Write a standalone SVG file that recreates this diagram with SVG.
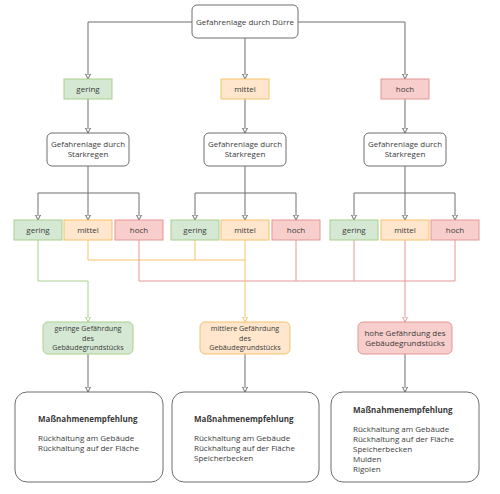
<svg xmlns="http://www.w3.org/2000/svg" width="500" height="494" viewBox="0 0 500 494">
<defs>
<style>
text{font-family:"Open Sans","Liberation Sans",sans-serif;font-size:8px;fill:#3a3a3a;}
.c{text-anchor:middle;}
.b{font-weight:bold;}
.s{font-size:7.2px;}
.n{fill:#fff;stroke:#6e6e6e;stroke-width:1;}
.g{fill:#d5e8d4;stroke:#a8d08d;stroke-width:1;}
.o{fill:#ffe6cc;stroke:#f4c46a;stroke-width:1;}
.r{fill:#f8cecc;stroke:#e39896;stroke-width:1;}
.e{fill:none;stroke-width:1;}
.eg{stroke:#6e6e6e;marker-end:url(#ag);}
.egn{stroke:#a8d08d;}
.eor{stroke:#f4c46a;}
.ere{stroke:#e39896;}
</style>
<marker id="ag" viewBox="0 0 6 6" refX="5.5" refY="3" markerWidth="6" markerHeight="6" markerUnits="userSpaceOnUse" orient="auto"><path d="M0.5,0.5 L5.5,3 L0.5,5.5 Z" fill="#fff" stroke="#6e6e6e" stroke-width="1"/></marker>
<marker id="agn" viewBox="0 0 6 6" refX="5.5" refY="3" markerWidth="6" markerHeight="6" markerUnits="userSpaceOnUse" orient="auto"><path d="M0.5,0.5 L5.5,3 L0.5,5.5 Z" fill="#fff" stroke="#a8d08d" stroke-width="1"/></marker>
<marker id="aor" viewBox="0 0 6 6" refX="5.5" refY="3" markerWidth="6" markerHeight="6" markerUnits="userSpaceOnUse" orient="auto"><path d="M0.5,0.5 L5.5,3 L0.5,5.5 Z" fill="#fff" stroke="#f4c46a" stroke-width="1"/></marker>
<marker id="are" viewBox="0 0 6 6" refX="5.5" refY="3" markerWidth="6" markerHeight="6" markerUnits="userSpaceOnUse" orient="auto"><path d="M0.5,0.5 L5.5,3 L0.5,5.5 Z" fill="#fff" stroke="#e39896" stroke-width="1"/></marker>
</defs>
<rect width="500" height="494" fill="#fff"/>

<g id="connectors" class="e">
<path class="e eg" d="M192,22 H88 V79"/>
<path class="e eg" d="M245,38 V79"/>
<path class="e eg" d="M298,22 H405 V79"/>
<path class="e eg" d="M88,99 V133"/>
<path class="e eg" d="M245,99 V133"/>
<path class="e eg" d="M405,99 V133"/>
<path class="e eg" d="M88,166 V220"/>
<path class="e eg" d="M88,193 H38 V220"/>
<path class="e eg" d="M88,193 H139 V220"/>
<path class="e eg" d="M245,166 V220"/>
<path class="e eg" d="M245,193 H195 V220"/>
<path class="e eg" d="M245,193 H296 V220"/>
<path class="e eg" d="M405,166 V220"/>
<path class="e eg" d="M405,193 H354 V220"/>
<path class="e eg" d="M405,193 H455 V220"/>
<path class="e egn" d="M38,240 V281 H88 V322" marker-end="url(#agn)"/>
<path class="e eor" d="M88,240 V260 H245"/>
<path class="e eor" d="M195,240 V260"/>
<path class="e ere" d="M139,240 V281 H455 V240"/>
<path class="e ere" d="M296,240 V281"/>
<path class="e ere" d="M354,240 V281"/>
<path class="e eor" d="M245,240 V322" marker-end="url(#aor)"/>
<path class="e ere" d="M405,240 V322" marker-end="url(#are)"/>
<path class="e eg" d="M88,354 V392"/>
<path class="e eg" d="M245,354 V392"/>
<path class="e eg" d="M405,354 V392"/>
</g>

<g id="duerre"><rect class="n" x="192" y="5" width="106" height="33" rx="5"/><text class="c" x="245" y="24.5">Gefahrenlage durch Dürre</text></g>

<g id="d-gering"><rect class="g" x="64" y="79" width="48" height="20"/><text class="c" x="88" y="91.8">gering</text></g>
<g id="d-mittel"><rect class="o" x="221" y="79" width="48" height="20"/><text class="c" x="245" y="91.8">mittel</text></g>
<g id="d-hoch"><rect class="r" x="381" y="79" width="48" height="20"/><text class="c" x="405" y="91.8">hoch</text></g>

<g id="sr1"><rect class="n" x="47" y="133" width="82" height="33" rx="5"/><text class="c" x="88" y="147">Gefahrenlage durch</text><text class="c" x="88" y="157">Starkregen</text></g>
<g id="sr2"><rect class="n" x="204" y="133" width="82" height="33" rx="5"/><text class="c" x="245" y="147">Gefahrenlage durch</text><text class="c" x="245" y="157">Starkregen</text></g>
<g id="sr3"><rect class="n" x="364" y="133" width="82" height="33" rx="5"/><text class="c" x="405" y="147">Gefahrenlage durch</text><text class="c" x="405" y="157">Starkregen</text></g>

<g id="s1-gering"><rect class="g" x="14" y="220" width="48" height="20"/><text class="c" x="38" y="232.8">gering</text></g>
<g id="s1-mittel"><rect class="o" x="64" y="220" width="48" height="20"/><text class="c" x="88" y="232.8">mittel</text></g>
<g id="s1-hoch"><rect class="r" x="115" y="220" width="48" height="20"/><text class="c" x="139" y="232.8">hoch</text></g>
<g id="s2-gering"><rect class="g" x="171" y="220" width="48" height="20"/><text class="c" x="195" y="232.8">gering</text></g>
<g id="s2-mittel"><rect class="o" x="221" y="220" width="48" height="20"/><text class="c" x="245" y="232.8">mittel</text></g>
<g id="s2-hoch"><rect class="r" x="272" y="220" width="48" height="20"/><text class="c" x="296" y="232.8">hoch</text></g>
<g id="s3-gering"><rect class="g" x="330" y="220" width="48" height="20"/><text class="c" x="354" y="232.8">gering</text></g>
<g id="s3-mittel"><rect class="o" x="381" y="220" width="48" height="20"/><text class="c" x="405" y="232.8">mittel</text></g>
<g id="s3-hoch"><rect class="r" x="431" y="220" width="48" height="20"/><text class="c" x="455" y="232.8">hoch</text></g>

<g id="gef-gering"><rect class="g" x="43" y="322" width="90" height="32" rx="5"/><text class="c s" x="88" y="330.8">geringe Gefährdung</text><text class="c s" x="88" y="340.6">des</text><text class="c s" x="88" y="350.4">Gebäudegrundstücks</text></g>
<g id="gef-mittel"><rect class="o" x="200" y="322" width="90" height="32" rx="5"/><text class="c s" x="245" y="330.8">mittlere Gefährdung</text><text class="c s" x="245" y="340.6">des</text><text class="c s" x="245" y="350.4">Gebäudegrundstücks</text></g>
<g id="gef-hoch"><rect class="r" x="358" y="322" width="94" height="32" rx="5"/><text class="c" x="405" y="336">hohe Gefährdung des</text><text class="c" x="405" y="346">Gebäudegrundstücks</text></g>

<g id="m1"><rect class="n" x="15" y="392" width="148" height="90" rx="12"/><text class="b" x="38" y="421.5">Maßnahmenempfehlung</text><text x="38" y="441">Rückhaltung am Gebäude</text><text x="38" y="451">Rückhaltung auf der Fläche</text></g>
<g id="m2"><rect class="n" x="172" y="392" width="147" height="90" rx="12"/><text class="b" x="194" y="421.5">Maßnahmenempfehlung</text><text x="194" y="441">Rückhaltung am Gebäude</text><text x="194" y="451">Rückhaltung auf der Fläche</text><text x="194" y="461">Speicherbecken</text></g>
<g id="m3"><rect class="n" x="331" y="392" width="148" height="90" rx="12"/><text class="b" x="353" y="412.5">Maßnahmenempfehlung</text><text x="353" y="432">Rückhaltung am Gebäude</text><text x="353" y="442">Rückhaltung auf der Fläche</text><text x="353" y="452">Speicherbecken</text><text x="353" y="462">Mulden</text><text x="353" y="472">Rigolen</text></g>
</svg>
